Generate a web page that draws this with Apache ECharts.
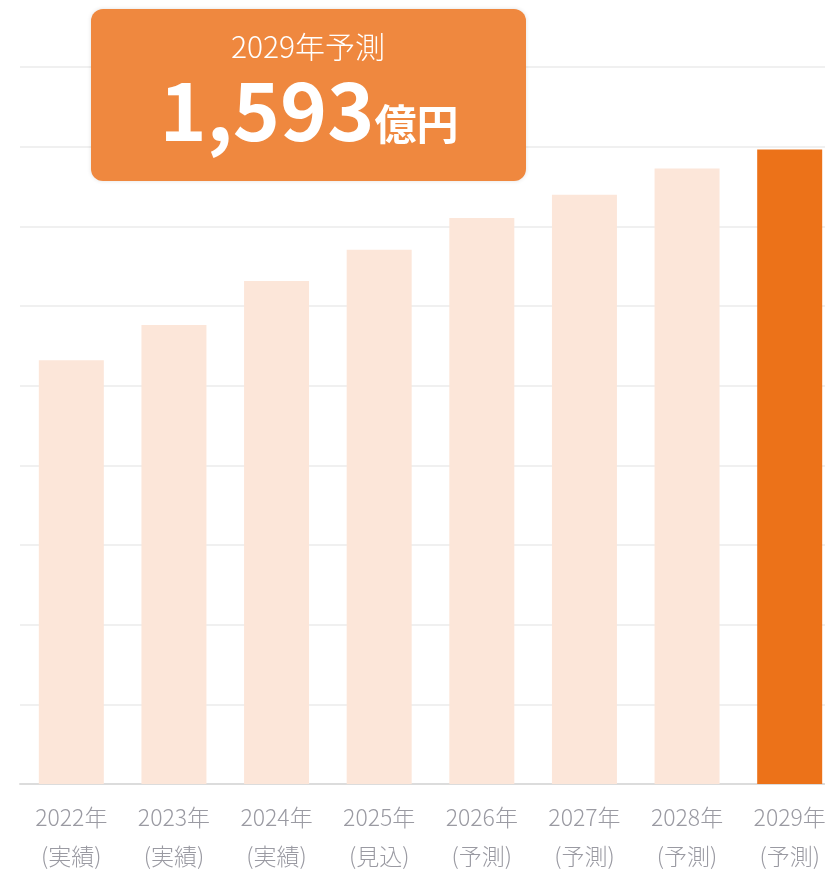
<!DOCTYPE html>
<html>
<head>
<meta charset="utf-8">
<script src="https://cdn.jsdelivr.net/npm/echarts@6/dist/echarts.min.js"></script>
<style>
  html, body { margin: 0; padding: 0; background: #fff; }
  #main { width: 825px; height: 870px; }
</style>
</head>
<body>
<div id="main"></div>
<script>
// データ
const years = ['2022', '2023', '2024', '2025', '2026', '2027', '2028', '2029']
const status = ['実績', '実績', '実績', '見込', '予測', '予測', '予測', '予測']
const values = [1064, 1152, 1263, 1341, 1421, 1479, 1545, 1593]

const FONT = '"Noto Sans CJK JP", "Noto Sans", sans-serif'
const last = values.length - 1

const fmt = (v) => v.toLocaleString('en-US')

var myChart = echarts.init(document.getElementById('main'))

var option = {
    animation: false,
    grid: {
        left: 20,
        top: 67,
        bottom: 86,
        width: 821,
        containLabel: false,
        outerBoundsMode: 'none'
    },
    xAxis: {
        type: 'category',
        data: years.map((y, i) => y + '年\n(' + status[i] + ')'),
        axisTick: { show: false },
        axisLine: { lineStyle: { color: '#dcdcdc', width: 2 } },
        axisLabel: {
            interval: 0,
            hideOverlap: false,
            color: '#9a9aa2',
            fontFamily: FONT,
            fontSize: 23,
            fontWeight: 300,
            lineHeight: 39,
            margin: 14
        }
    },
    yAxis: {
        type: 'value',
        min: 0,
        max: 1800,
        interval: 200,
        axisLabel: { show: false },
        axisLine: { show: false },
        axisTick: { show: false },
        splitLine: { lineStyle: { color: '#f0f0f0', width: 2 } }
    },
    series: [{
        type: 'bar',
        barWidth: 65,
        data: values.map((v, i) => ({
            value: v,
            itemStyle: { color: i === last ? '#ec7219' : '#fce6d9' }
        }))
    }],
    graphic: [
        {
            type: 'rect',
            left: 91,
            top: 9,
            shape: { width: 435, height: 172, r: 12 },
            style: {
                fill: '#ef883f',
                shadowBlur: 4,
                shadowColor: 'rgba(0,0,0,0.12)'
            },
            z: 100
        },
        {
            type: 'text',
            x: 308,
            y: 47,
            style: {
                text: years[last] + '年予測',
                fill: '#fff',
                font: '300 30px ' + FONT,
                align: 'center',
                verticalAlign: 'middle'
            },
            z: 101
        },
        {
            type: 'text',
            x: 309,
            y: 151,
            style: {
                text: '{a|' + fmt(values[last]) + '}{b|億円}',
                align: 'center',
                verticalAlign: 'bottom',
                rich: {
                    a: {
                        fill: '#fff',
                        fontFamily: FONT,
                        fontSize: 80,
                        fontWeight: 'bold',
                        lineHeight: 90,
                        verticalAlign: 'bottom'
                    },
                    b: {
                        fill: '#fff',
                        fontFamily: FONT,
                        fontSize: 42,
                        fontWeight: 'bold',
                        lineHeight: 42,
                        verticalAlign: 'bottom',
                        padding: [0, 0, 6, 0]
                    }
                }
            },
            z: 101
        }
    ]
}

myChart.setOption(option)
</script>
</body>
</html>
